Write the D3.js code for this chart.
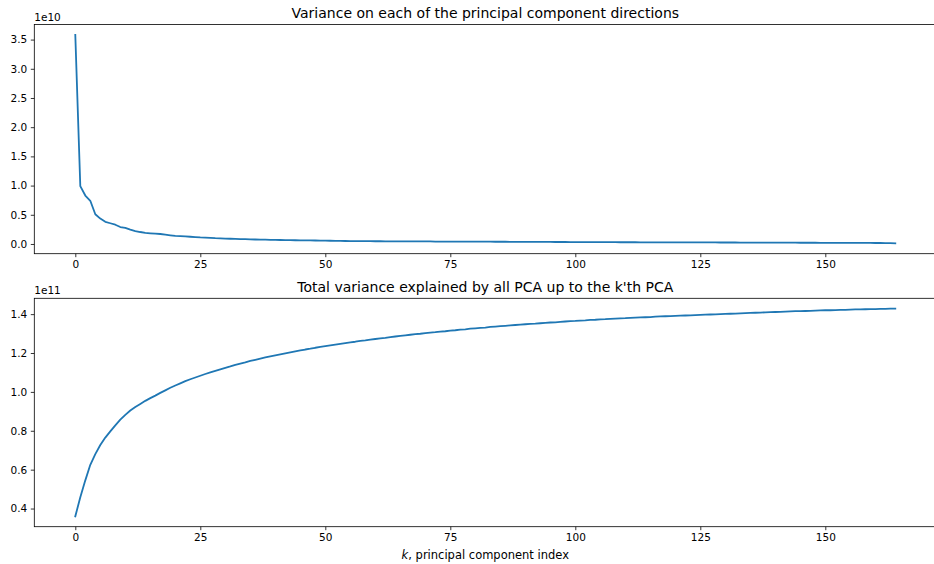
<!DOCTYPE html>
<html>
<head>
<meta charset="utf-8">
<script src="https://cdn.jsdelivr.net/npm/d3@7"></script>
<style>
    body { margin: 0; background: #fff; }
    svg { display: block; font-family: "DejaVu Sans", sans-serif; }
</style>
</head>
<body>
<div id="chart"></div>
<script>
// variance on each principal component direction, in units of 1e10
varianceValues = [
    3.58, 0.99, 0.83, 0.74, 0.51, 0.435, 0.38, 0.355, 0.33, 0.29,
    0.275, 0.245, 0.222, 0.205, 0.19, 0.183, 0.177, 0.171, 0.16, 0.149,
    0.138, 0.136, 0.131, 0.124, 0.118, 0.112, 0.108, 0.104, 0.099, 0.096,
    0.093, 0.090, 0.087, 0.084, 0.082, 0.079, 0.077, 0.075, 0.073, 0.071,
    0.070, 0.068, 0.067, 0.065, 0.064, 0.063, 0.062, 0.061, 0.060, 0.058,
    0.056, 0.055, 0.053, 0.052, 0.051, 0.050, 0.049, 0.049, 0.048, 0.048,
    0.047, 0.047, 0.046, 0.046, 0.046, 0.045, 0.045, 0.044, 0.044, 0.044,
    0.043, 0.043, 0.042, 0.042, 0.042, 0.041, 0.041, 0.041, 0.040, 0.040,
    0.040, 0.039, 0.039, 0.039, 0.038, 0.038, 0.038, 0.037, 0.037, 0.037,
    0.036, 0.036, 0.036, 0.035, 0.035, 0.035, 0.034, 0.034, 0.034, 0.033,
    0.033, 0.033, 0.032, 0.032, 0.032, 0.031, 0.031, 0.031, 0.031, 0.030,
    0.030, 0.030, 0.030, 0.029, 0.029, 0.029, 0.029, 0.028, 0.028, 0.028,
    0.028, 0.027, 0.027, 0.027, 0.027, 0.026, 0.026, 0.026, 0.026, 0.025,
    0.025, 0.025, 0.025, 0.024, 0.024, 0.024, 0.024, 0.023, 0.023, 0.023,
    0.023, 0.022, 0.022, 0.022, 0.022, 0.021, 0.021, 0.021, 0.021, 0.020,
    0.020, 0.020, 0.020, 0.019, 0.019, 0.019, 0.019, 0.018, 0.018, 0.018,
    0.017, 0.017, 0.016, 0.015, 0.012
];

// total variance explained up to the k'th component, in units of 1e11
cumulativeValues = [
    0.360, 0.458, 0.545, 0.625, 0.680, 0.727, 0.765, 0.797, 0.828, 0.857,
    0.882, 0.904, 0.922, 0.938, 0.954, 0.968, 0.981, 0.995, 1.008, 1.021,
    1.033, 1.044, 1.055, 1.065, 1.074, 1.083, 1.092, 1.100, 1.108, 1.116,
    1.124, 1.131, 1.139, 1.146, 1.152, 1.159, 1.165, 1.171, 1.177, 1.183,
    1.188, 1.193, 1.198, 1.203, 1.208, 1.213, 1.218, 1.222, 1.227, 1.231,
    1.235, 1.239, 1.243, 1.247, 1.251, 1.255, 1.258, 1.262, 1.265, 1.269,
    1.272, 1.275, 1.278, 1.282, 1.285, 1.288, 1.291, 1.294, 1.297, 1.299,
    1.302, 1.305, 1.307, 1.310, 1.312, 1.315, 1.317, 1.320, 1.322, 1.325,
    1.327, 1.329, 1.331, 1.334, 1.336, 1.338, 1.340, 1.342, 1.344, 1.346,
    1.348, 1.350, 1.351, 1.353, 1.355, 1.357, 1.358, 1.360, 1.362, 1.364,
    1.365, 1.367, 1.368, 1.370, 1.371, 1.373, 1.374, 1.376, 1.377, 1.378,
    1.379, 1.381, 1.382, 1.383, 1.384, 1.385, 1.387, 1.388, 1.389, 1.390,
    1.391, 1.392, 1.393, 1.394, 1.395, 1.396, 1.397, 1.398, 1.399, 1.400,
    1.401, 1.402, 1.403, 1.404, 1.405, 1.406, 1.407, 1.408, 1.409, 1.410,
    1.411, 1.412, 1.413, 1.414, 1.415, 1.415, 1.416, 1.417, 1.418, 1.419,
    1.420, 1.420, 1.421, 1.422, 1.422, 1.423, 1.424, 1.424, 1.425, 1.426,
    1.426, 1.427, 1.427, 1.428, 1.428
];

xTicks = [0, 25, 50, 75, 100, 125, 150];
topYTicks = [0.0, 0.5, 1.0, 1.5, 2.0, 2.5, 3.0, 3.5];
bottomYTicks = [0.4, 0.6, 0.8, 1.0, 1.2, 1.4];

ChartOptions = {
    width: 934,
    height: 564,
    left: 34.3,
    right: 936.3,
    lineColor: '#1f77b4',
    tickFontSize: 10.5,
    titleFontSize: 14,
    labelFontSize: 11.5,
    panels: [
        {title: 'Variance on each of the principal component directions', values: varianceValues,
         yTicks: topYTicks, offsetText: '1e10', top: 24.5, bottom: 253.7},
        {title: "Total variance explained by all PCA up to the k'th PCA", values: cumulativeValues,
         yTicks: bottomYTicks, offsetText: '1e11', top: 298.3, bottom: 526.7}
    ]
};

// matplotlib style 5% margins around the data
function paddedExtent(values) {
    let ext = d3.extent(values);
    let pad = (ext[1] - ext[0]) * 0.05;
    return [ext[0] - pad, ext[1] + pad];
}

function drawPanel(svg, panel, showXLabel) {
    let indices = d3.range(panel.values.length);

    let x = d3.scaleLinear()
        .domain(paddedExtent(indices))
        .range([ChartOptions.left, ChartOptions.right]);
    let y = d3.scaleLinear()
        .domain(paddedExtent(panel.values))
        .range([panel.bottom, panel.top]);

    let g = svg.append('g').classed('panel', true);

    let xAxis = g.append('g')
        .attr('transform', 'translate(0,' + panel.bottom + ')')
        .call(d3.axisBottom(x).tickValues(xTicks).tickSize(3.5).tickPadding(3.5).tickFormat(d3.format('d')));
    let yAxis = g.append('g')
        .attr('transform', 'translate(' + ChartOptions.left + ',0)')
        .call(d3.axisLeft(y).tickValues(panel.yTicks).tickSize(3.5).tickPadding(3.5).tickFormat(d3.format('.1f')));

    [xAxis, yAxis].forEach(function(axis) {
        axis.select('.domain').remove();
        axis.selectAll('.tick line').attr('stroke', '#000').attr('stroke-width', 0.8);
        axis.selectAll('.tick text')
            .attr('fill', '#000')
            .attr('font-size', ChartOptions.tickFontSize)
            .attr('font-family', '"DejaVu Sans", sans-serif');
    });

    g.append('path')
        .datum(indices)
        .attr('fill', 'none')
        .attr('stroke', ChartOptions.lineColor)
        .attr('stroke-width', 1.8)
        .attr('stroke-linejoin', 'round')
        .attr('stroke-linecap', 'square')
        .attr('d', d3.line()
            .x(function(i) { return x(i); })
            .y(function(i) { return y(panel.values[i]); }));

    g.append('rect')
        .attr('x', ChartOptions.left)
        .attr('y', panel.top)
        .attr('width', ChartOptions.right - ChartOptions.left)
        .attr('height', panel.bottom - panel.top)
        .attr('fill', 'none')
        .attr('stroke', '#000')
        .attr('stroke-width', 0.8);

    g.append('text')
        .attr('x', (ChartOptions.left + ChartOptions.right) / 2)
        .attr('y', panel.top - 6.5)
        .attr('text-anchor', 'middle')
        .attr('font-size', ChartOptions.titleFontSize)
        .attr('fill', '#000')
        .text(panel.title);

    g.append('text')
        .attr('x', ChartOptions.left)
        .attr('y', panel.top - 4)
        .attr('font-size', ChartOptions.tickFontSize)
        .attr('fill', '#000')
        .text(panel.offsetText);

    if (showXLabel) {
        let label = g.append('text')
            .attr('x', (ChartOptions.left + ChartOptions.right) / 2)
            .attr('y', panel.bottom + 32)
            .attr('text-anchor', 'middle')
            .attr('font-size', ChartOptions.labelFontSize)
            .attr('fill', '#000');
        label.append('tspan').attr('font-style', 'italic').text('k');
        label.append('tspan').text(', principal component index');
    }
}

function drawChart() {
    let svg = d3.select('#chart')
        .append('svg')
        .attr('width', ChartOptions.width)
        .attr('height', ChartOptions.height);

    ChartOptions.panels.forEach(function(panel, i) {
        drawPanel(svg, panel, i === ChartOptions.panels.length - 1);
    });
}

drawChart();
</script>
</body>
</html>
